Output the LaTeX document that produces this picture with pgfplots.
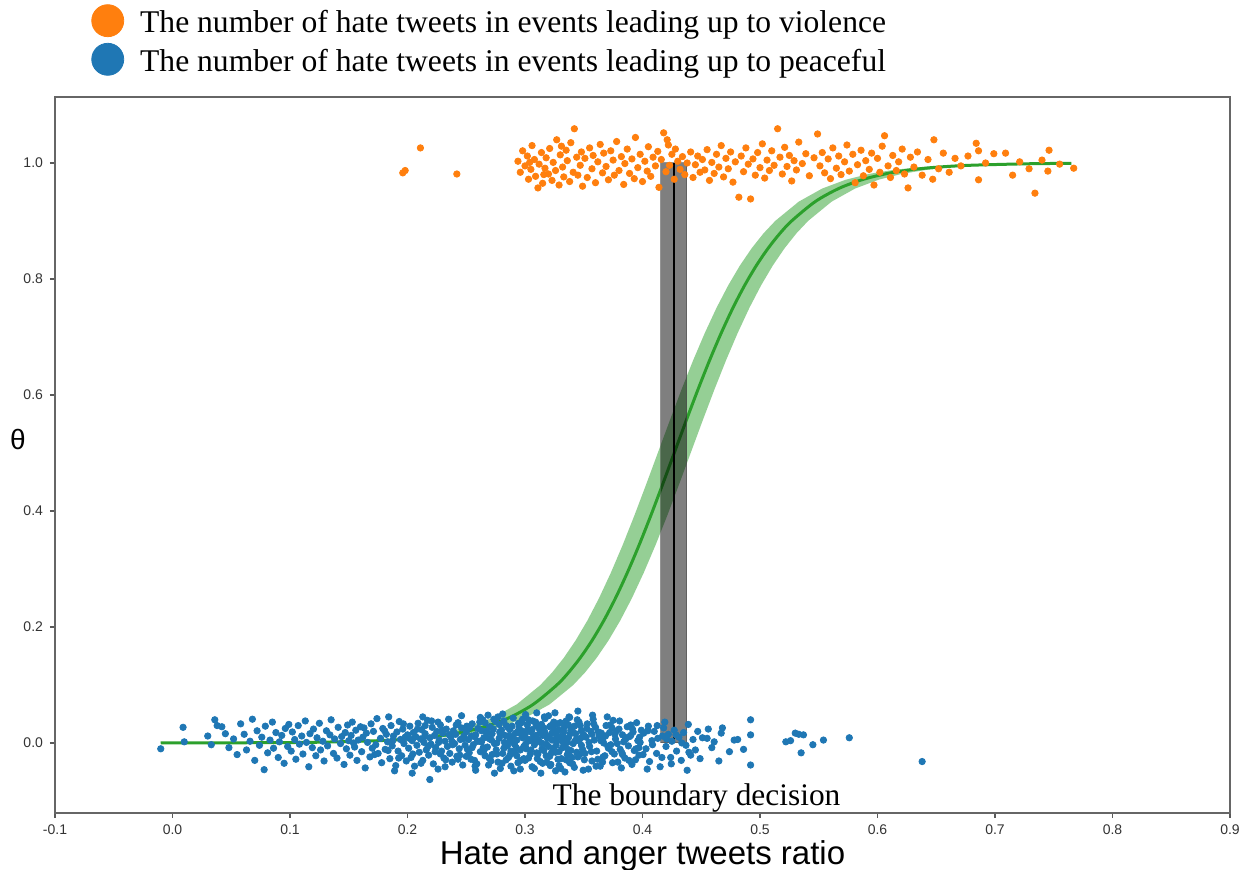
\documentclass[border=0pt]{standalone}
\usepackage{fontspec}
\setmainfont{Liberation Serif}
\setsansfont{Liberation Sans}
\usepackage{pgfplots}
\pgfplotsset{compat=1.18}
\definecolor{tabblue}{HTML}{1F77B4}
\definecolor{taborange}{HTML}{FF7F0E}
\definecolor{tabgreen}{HTML}{2CA02C}

\begin{document}
\begin{tikzpicture}
\useasboundingbox (-27.5pt,-28.5pt) rectangle (596.5pt,406.5pt);
\begin{axis}[
scale only axis,width=587.5pt,height=358pt,
xmin=-0.1,xmax=0.9,ymin=-0.1207,ymax=1.1138,
xtick={-0.1,0,0.1,0.2,0.3,0.4,0.5,0.6,0.7,0.8,0.9},
xticklabels={-0.1,0.0,0.1,0.2,0.3,0.4,0.5,0.6,0.7,0.8,0.9},
ytick={0,0.2,0.4,0.6,0.8,1.0},
yticklabels={0.0,0.2,0.4,0.6,0.8,1.0},
tick align=outside,major tick length=2.5pt,
tick style={black!65,line width=0.6pt},
axis line style={black!60,line width=0.75pt},
tick label style={font=\sffamily\fontsize{7}{8}\selectfont,black!80},
/pgf/number format/assume math mode=true,
xtick pos=bottom,ytick pos=left,
xlabel={Hate and anger tweets ratio},
xlabel style={font=\sffamily\fontsize{16.5}{18}\selectfont,yshift=4pt},
ylabel={θ},
ylabel style={font=\sffamily\fontsize{14}{16}\selectfont,rotate=-90,at={(axis description cs:-0.0315,0.521)},anchor=center},
legend style={at={(axis description cs:0.0306,1.1300)},anchor=north west,draw=none,fill=none,
  font=\fontsize{15.8}{19}\selectfont,row sep=2.9pt,inner sep=0pt,nodes={inner sep=0pt}},
legend cell align=left,
clip=false
]
% violence events (orange)
\addplot[only marks,mark=*,mark size=1.6pt,color=taborange,
  legend image code/.code={\fill[taborange] (8pt,1.1pt) circle (8pt);\path (24pt,0pt);}] coordinates {
(0.196,0.983)(0.198,0.987)(0.211,1.026)(0.242,0.981)
(0.294,1.003)(0.296,0.984)(0.298,1.021)(0.300,0.995)(0.302,1.012)(0.303,0.972)(0.305,0.989)(0.306,1.030)(0.308,1.006)(0.309,0.977)
(0.311,0.957)(0.312,0.998)(0.314,1.018)(0.315,0.965)(0.317,0.991)(0.318,1.009)(0.320,0.981)(0.321,1.025)(0.323,0.970)(0.324,1.001)
(0.326,0.987)(0.327,1.040)(0.329,0.962)(0.330,1.014)(0.332,0.993)(0.333,0.976)(0.335,1.022)(0.336,1.004)(0.338,0.968)(0.339,1.035)
(0.341,0.984)(0.342,1.059)(0.344,1.010)(0.345,0.979)(0.347,0.996)(0.348,1.019)(0.349,0.960)(0.304,1.001)(0.316,0.980)(0.331,1.029)
(0.351,1.008)(0.353,0.975)(0.355,1.026)(0.357,0.990)(0.358,1.013)(0.360,0.966)(0.362,1.002)(0.364,1.032)(0.366,0.983)(0.367,1.017)
(0.369,0.994)(0.371,0.971)(0.373,1.021)(0.375,1.005)(0.376,0.979)(0.378,1.037)(0.380,0.987)(0.382,1.011)(0.384,0.963)(0.385,0.999)
(0.387,1.024)(0.389,0.982)(0.391,1.007)(0.393,0.973)(0.394,1.044)(0.396,0.992)(0.398,1.015)(0.400,0.968)(0.402,1.003)(0.404,0.986)
(0.405,1.028)(0.407,0.977)(0.409,1.010)(0.411,0.995)(0.413,1.020)(0.414,0.958)(0.416,1.006)(0.418,1.052)(0.420,0.985)(0.422,1.031)
(0.423,0.996)(0.425,1.015)(0.427,0.972)(0.428,1.024)(0.430,1.003)(0.432,0.989)(0.434,1.011)(0.436,0.980)(0.438,1.000)(0.441,1.019)
(0.443,0.975)(0.445,0.997)(0.447,1.012)(0.449,0.984)(0.421,1.040)
(0.451,1.006)(0.453,0.988)(0.455,1.023)(0.457,0.970)(0.459,1.001)(0.461,0.982)(0.463,1.015)(0.465,0.993)(0.467,1.030)(0.469,0.976)
(0.471,1.008)(0.473,0.990)(0.475,1.019)(0.477,0.967)(0.479,1.002)(0.482,0.941)(0.484,1.012)(0.486,0.985)(0.488,1.026)(0.490,0.998)
(0.492,0.938)(0.494,1.007)(0.496,0.979)(0.498,1.018)(0.500,0.992)(0.502,1.033)(0.504,0.974)(0.506,1.005)(0.508,0.987)(0.510,1.021)
(0.512,0.996)(0.515,1.059)(0.517,1.010)(0.519,0.981)(0.521,1.027)(0.523,0.994)(0.525,1.013)(0.527,0.969)(0.529,1.004)(0.531,0.988)
(0.533,1.036)(0.536,0.999)(0.539,1.016)(0.542,0.978)(0.546,1.009)
(0.549,1.050)(0.551,0.995)(0.553,1.018)(0.555,0.983)(0.558,1.007)(0.560,0.973)(0.562,1.026)(0.565,0.991)(0.567,1.012)(0.569,0.980)
(0.572,1.002)(0.574,1.031)(0.576,0.986)(0.579,1.015)(0.581,0.966)(0.583,0.997)(0.586,1.022)(0.588,0.978)(0.590,1.004)(0.593,0.989)
(0.595,1.017)(0.597,0.962)(0.600,1.008)(0.602,0.984)(0.604,1.029)(0.606,1.047)(0.609,0.995)(0.611,0.975)(0.613,1.013)(0.616,0.987)
(0.618,1.002)(0.621,1.024)(0.623,0.981)(0.626,0.957)(0.628,1.010)(0.631,0.993)(0.634,1.019)(0.638,0.979)(0.643,1.006)(0.647,0.972)
(0.648,1.040)(0.652,0.990)(0.656,1.017)(0.661,0.984)(0.666,1.008)(0.671,0.995)(0.677,1.012)(0.684,1.034)(0.686,0.971)(0.686,1.021)
(0.692,1.000)(0.699,1.016)(0.709,1.017)(0.715,0.979)(0.721,1.002)(0.729,0.990)(0.734,0.948)(0.745,0.986)(0.746,1.022)(0.755,0.998)
(0.767,0.991)(0.740,1.005)
};
\addlegendentry{The number of hate tweets in events leading up to violence}
% peaceful events (blue)
\addplot[only marks,mark=*,mark size=1.6pt,color=tabblue,
  legend image code/.code={\fill[tabblue] (8pt,1.1pt) circle (8pt);\path (24pt,0pt);}] coordinates {
(-0.010,-0.010)(0.009,0.027)(0.010,0.002)(0.030,0.012)(0.036,0.040)(0.038,0.030)(0.033,-0.003)(0.045,0.016)(0.048,-0.008)(0.042,0.028)
(0.052,0.007)(0.055,-0.020)(0.058,0.033)(0.061,0.015)(0.063,-0.012)(0.066,0.003)(0.068,0.041)(0.070,-0.030)(0.072,0.021)(0.074,-0.004)
(0.076,0.010)(0.078,-0.046)(0.079,0.029)(0.081,-0.017)(0.083,0.005)(0.085,0.036)(0.086,-0.009)(0.088,0.018)(0.090,-0.025)(0.091,0.002)
(0.093,0.013)(0.095,-0.035)(0.096,0.025)(0.098,-0.006)(0.099,0.032)
(0.101,-0.014)(0.102,0.019)(0.104,0.006)(0.105,-0.028)(0.107,0.030)(0.108,-0.002)(0.110,0.012)(0.111,-0.019)(0.113,0.038)(0.114,0.001)
(0.116,-0.041)(0.117,0.016)(0.119,-0.008)(0.120,0.024)(0.122,-0.022)(0.123,0.009)(0.125,0.034)(0.126,-0.012)(0.128,0.003)(0.129,-0.031)
(0.131,0.021)(0.132,-0.005)(0.134,0.014)(0.135,0.040)(0.137,-0.018)(0.138,0.007)(0.140,-0.026)(0.141,0.027)(0.143,-0.001)(0.144,0.011)
(0.146,-0.037)(0.147,0.018)(0.148,-0.010)(0.149,0.031)(0.150,0.004)
(0.151,-0.021)(0.152,0.013)(0.153,0.036)(0.155,-0.007)(0.156,0.022)(0.157,-0.030)(0.158,0.005)(0.160,0.028)(0.161,-0.015)(0.162,0.010)
(0.164,-0.043)(0.165,0.017)(0.166,0.001)(0.168,-0.024)(0.169,0.033)(0.170,-0.009)(0.171,0.020)(0.173,-0.003)(0.174,0.042)(0.175,-0.018)
(0.177,0.008)(0.178,-0.034)(0.179,0.025)(0.181,-0.011)(0.182,0.015)(0.183,0.002)(0.185,-0.027)(0.186,0.030)(0.187,-0.005)(0.188,0.012)
(0.190,-0.039)(0.191,0.019)(0.192,-0.014)(0.193,0.037)(0.194,0.006)(0.195,-0.022)(0.196,0.024)(0.197,-0.001)(0.198,0.010)(0.199,-0.031)
(0.154,0.000)(0.163,0.026)(0.172,-0.020)(0.184,0.045)(0.189,-0.048)
(0.200,0.014)(0.201,-0.009)(0.202,0.029)(0.203,-0.025)(0.204,0.004)(0.205,0.018)(0.206,-0.040)(0.207,0.011)(0.208,-0.004)(0.209,0.034)
(0.210,-0.016)(0.211,0.007)(0.212,0.023)(0.213,-0.030)(0.214,0.001)(0.215,0.016)(0.216,-0.012)(0.217,0.039)(0.218,-0.021)(0.219,0.009)
(0.220,-0.002)(0.221,0.027)(0.222,-0.036)(0.223,0.013)(0.224,-0.008)(0.225,0.020)(0.226,-0.045)(0.227,0.005)(0.228,0.031)(0.229,-0.014)
(0.230,0.017)(0.231,-0.026)(0.232,0.003)(0.233,0.024)(0.234,-0.006)(0.235,0.041)(0.236,-0.018)(0.237,0.010)(0.238,-0.033)(0.239,0.021)
(0.240,-0.001)(0.241,0.015)(0.242,-0.023)(0.243,0.035)(0.244,-0.010)(0.245,0.006)(0.246,0.026)(0.247,-0.038)(0.248,0.012)(0.249,-0.004)
(0.204,-0.052)(0.213,0.045)(0.219,-0.063)(0.226,0.036)(0.232,-0.041)(0.238,0.002)(0.243,-0.028)(0.215,0.030)(0.228,-0.019)(0.246,0.047)
(0.250,0.019)(0.251,-0.011)(0.252,0.006)(0.254,-0.028)(0.255,0.033)(0.256,-0.003)(0.258,0.014)(0.259,-0.036)(0.260,0.025)(0.262,-0.015)
(0.263,0.002)(0.264,0.040)(0.266,-0.022)(0.267,0.010)(0.268,-0.007)(0.270,0.028)(0.271,-0.031)(0.272,0.016)(0.274,-0.001)(0.275,0.037)
(0.276,-0.019)(0.278,0.008)(0.279,-0.044)(0.280,0.022)(0.282,-0.009)(0.283,0.013)(0.284,0.030)(0.286,-0.025)(0.287,0.004)(0.288,-0.014)
(0.290,0.043)(0.291,-0.002)(0.292,0.017)(0.294,-0.034)(0.295,0.026)(0.296,-0.012)(0.298,0.009)(0.299,-0.027)(0.281,0.050)(0.297,0.035)
(0.250,-0.023)(0.253,0.027)(0.255,-0.008)(0.257,0.011)(0.258,-0.047)(0.261,0.003)(0.263,0.021)(0.265,-0.013)(0.266,0.035)(0.269,-0.038)
(0.270,0.007)(0.272,-0.020)(0.273,0.024)(0.276,0.000)(0.277,-0.033)(0.279,0.016)(0.281,-0.018)(0.282,0.038)(0.285,-0.005)(0.286,0.012)
(0.288,-0.040)(0.289,0.029)(0.291,-0.016)(0.293,0.005)(0.294,0.020)(0.296,-0.045)(0.297,0.014)(0.299,-0.006)(0.257,-0.030)(0.262,0.044)
(0.268,0.018)(0.274,-0.052)(0.278,0.032)(0.284,-0.029)(0.289,0.002)(0.293,-0.022)(0.298,0.041)(0.265,0.009)(0.287,0.023)(0.277,0.045)
(0.300,0.015)(0.301,-0.010)(0.302,0.031)(0.303,-0.026)(0.304,0.004)(0.305,0.019)(0.306,-0.041)(0.307,0.010)(0.308,-0.003)(0.309,0.036)
(0.310,-0.017)(0.311,0.006)(0.312,0.025)(0.313,-0.032)(0.314,0.000)(0.315,0.013)(0.316,-0.013)(0.317,0.042)(0.318,-0.022)(0.319,0.008)
(0.320,-0.006)(0.321,0.028)(0.322,-0.037)(0.323,0.017)(0.324,-0.009)(0.325,0.021)(0.326,-0.048)(0.327,0.003)(0.328,0.033)(0.329,-0.015)
(0.330,0.011)(0.331,-0.027)(0.332,0.002)(0.333,0.026)(0.334,-0.005)(0.335,0.038)(0.336,-0.020)(0.337,0.009)(0.338,-0.034)(0.339,0.022)
(0.341,-0.001)(0.343,0.016)(0.345,-0.024)(0.347,0.030)(0.349,-0.011)
(0.300,-0.030)(0.302,0.007)(0.303,0.040)(0.305,-0.012)(0.306,0.023)(0.308,-0.044)(0.309,0.013)(0.311,-0.019)(0.312,0.003)(0.314,0.032)
(0.315,-0.035)(0.317,0.018)(0.318,-0.002)(0.320,0.047)(0.321,-0.023)(0.323,0.005)(0.324,0.027)(0.326,-0.016)(0.327,0.012)(0.329,-0.039)
(0.330,0.035)(0.332,-0.008)(0.333,0.019)(0.335,-0.029)(0.336,0.001)(0.338,0.044)(0.339,-0.013)(0.340,0.024)(0.342,-0.042)(0.344,0.008)
(0.346,0.036)(0.348,-0.004)(0.350,0.014)(0.340,-0.025)(0.342,0.029)(0.344,-0.016)(0.346,0.004)(0.348,0.021)(0.310,0.052)(0.322,0.030)
(0.334,-0.050)(0.316,0.026)(0.328,-0.028)(0.337,0.031)(0.345,0.055)
(0.351,-0.018)(0.352,0.010)(0.353,0.033)(0.355,-0.006)(0.356,0.020)(0.357,-0.031)(0.359,0.005)(0.360,0.027)(0.361,-0.014)(0.363,0.012)
(0.364,-0.040)(0.365,0.017)(0.367,0.000)(0.368,-0.022)(0.369,0.030)(0.371,-0.009)(0.372,0.018)(0.373,-0.003)(0.375,0.039)(0.376,-0.019)
(0.377,0.007)(0.379,-0.033)(0.380,0.024)(0.381,-0.011)(0.383,0.014)(0.384,0.002)(0.385,-0.026)(0.387,0.028)(0.388,-0.005)(0.389,0.011)
(0.391,-0.037)(0.392,0.019)(0.393,-0.013)(0.395,0.035)(0.396,0.004)(0.397,-0.021)(0.399,0.022)(0.354,-0.045)(0.358,0.041)(0.362,-0.028)
(0.366,0.006)(0.370,0.045)(0.374,-0.015)(0.378,0.021)(0.382,-0.043)(0.386,0.009)(0.390,0.031)(0.394,-0.029)(0.398,0.001)(0.357,0.015)
(0.366,-0.033)(0.374,0.026)(0.383,-0.020)(0.390,0.013)(0.397,-0.008)
(0.401,0.017)(0.403,-0.010)(0.405,0.029)(0.406,-0.032)(0.408,0.004)(0.410,0.020)(0.412,-0.018)(0.413,0.008)(0.415,-0.041)(0.417,0.012)
(0.418,0.026)(0.420,-0.006)(0.422,0.015)(0.424,-0.025)(0.425,0.003)(0.427,0.022)(0.429,-0.014)(0.431,0.010)(0.433,-0.030)(0.435,0.018)
(0.437,-0.004)(0.439,0.032)(0.441,-0.021)(0.443,0.006)(0.445,-0.012)(0.447,0.020)(0.449,-0.027)(0.404,-0.045)(0.419,0.036)(0.438,-0.047)
(0.451,0.009)(0.455,0.008)(0.456,0.024)(0.459,-0.008)(0.461,0.002)(0.465,-0.031)(0.467,0.017)(0.468,0.026)(0.474,-0.015)(0.478,0.005)
(0.481,0.006)(0.486,-0.011)(0.492,0.040)(0.492,0.014)(0.492,-0.038)
(0.522,0.002)(0.526,0.004)(0.530,0.017)(0.533,0.015)(0.537,0.014)(0.545,-0.003)(0.535,-0.017)(0.554,0.005)(0.576,0.009)(0.638,-0.032)
(0.1805,0.021)(0.1835,-0.013)(0.1875,0.004)(0.1925,-0.026)(0.1965,0.033)(0.2015,0.008)(0.2045,-0.019)(0.2085,0.024)(0.2115,-0.035)(0.2145,0.011)
(0.2175,-0.006)(0.2205,0.038)(0.2235,-0.015)(0.2265,0.001)(0.2295,0.022)(0.2325,-0.029)(0.2355,0.014)(0.2385,-0.003)(0.2415,0.031)(0.2445,-0.021)
(0.2475,0.007)(0.2505,0.029)(0.2525,-0.017)(0.2545,0.012)(0.2575,-0.040)(0.2595,0.003)(0.2615,0.036)(0.2645,-0.008)(0.2665,0.020)(0.2695,-0.026)
(0.2715,0.005)(0.2735,0.041)(0.2755,-0.012)(0.2785,0.019)(0.2805,-0.035)(0.2825,0.001)(0.2855,0.027)(0.2875,-0.020)(0.2895,0.012)(0.2925,-0.008)
(0.2945,0.034)(0.2965,-0.030)(0.2985,0.020)(0.3005,-0.002)(0.3025,0.023)(0.3045,-0.019)(0.3065,0.038)(0.3085,0.002)(0.3105,-0.027)(0.3125,0.017)
(0.3145,-0.010)(0.3165,0.045)(0.3185,-0.033)(0.3205,0.011)(0.3225,-0.017)(0.3245,0.036)(0.3265,-0.004)(0.3285,0.022)(0.3305,-0.044)(0.3325,0.009)
(0.3345,0.030)(0.3365,-0.011)(0.3385,0.016)(0.3405,-0.036)(0.3425,0.003)(0.3445,0.040)(0.3465,-0.020)(0.3485,0.010)(0.3505,-0.029)(0.3525,0.025)
(0.3545,0.001)(0.3565,-0.015)(0.3585,0.033)(0.3605,-0.040)(0.3625,0.019)(0.3645,0.004)(0.3665,-0.024)(0.3685,0.012)(0.3705,-0.006)(0.3725,0.031)
(0.3745,-0.034)(0.3765,0.015)(0.3785,-0.001)(0.3805,0.038)(0.3825,-0.017)(0.3855,0.006)(0.3885,-0.030)(0.3915,0.024)(0.3945,-0.010)(0.3975,0.010)
(0.4005,-0.020)(0.4045,0.021)(0.4085,-0.003)(0.4125,0.030)(0.4165,-0.025)(0.4205,0.007)(0.4245,-0.036)(0.4285,0.014)(0.4335,0.000)(0.4395,-0.016)
(0.3005,0.049)(0.3135,-0.052)(0.3255,0.052)(0.3375,0.045)(0.3495,-0.047)(0.2905,-0.048)(0.2685,0.048)(0.3575,0.048)(0.3215,-0.039)(0.3095,0.030)
};
\addlegendentry{The number of hate tweets in events leading up to peaceful}
% credible band of the logistic fit
\addplot[fill=tabgreen,fill opacity=0.5,draw=none,forget plot] coordinates {
(-0.010,0.0001)(0.063,0.0005)(0.113,0.0014)(0.163,0.0041)(0.193,0.0078)(0.213,0.0121)(0.233,0.0187)(0.253,0.0288)
(0.273,0.0440)(0.293,0.0666)(0.313,0.0998)(0.323,0.1213)(0.333,0.1468)(0.343,0.1765)(0.353,0.2108)(0.363,0.2497)
(0.373,0.2932)(0.383,0.3407)(0.393,0.3917)(0.403,0.4452)(0.413,0.5000)(0.423,0.5548)(0.433,0.6083)(0.443,0.6593)
(0.453,0.7068)(0.463,0.7503)(0.473,0.7892)(0.483,0.8235)(0.493,0.8532)(0.503,0.8787)(0.513,0.9002)(0.533,0.9334)
(0.553,0.9560)(0.573,0.9712)(0.593,0.9813)(0.613,0.9879)(0.633,0.9922)(0.663,0.9959)(0.713,0.9986)(0.765,0.9996)
(0.765,0.9992)(0.741,0.9986)(0.691,0.9959)(0.661,0.9922)(0.641,0.9879)(0.621,0.9813)(0.601,0.9712)(0.581,0.9560)
(0.561,0.9334)(0.541,0.9002)(0.531,0.8787)(0.521,0.8532)(0.511,0.8235)(0.501,0.7892)(0.491,0.7503)(0.481,0.7068)
(0.471,0.6593)(0.461,0.6083)(0.451,0.5548)(0.441,0.5000)(0.431,0.4452)(0.421,0.3917)(0.411,0.3407)(0.401,0.2932)
(0.391,0.2497)(0.381,0.2108)(0.371,0.1765)(0.361,0.1468)(0.351,0.1213)(0.341,0.0998)(0.321,0.0666)(0.301,0.0440)
(0.281,0.0288)(0.261,0.0187)(0.241,0.0121)(0.221,0.0078)(0.191,0.0041)(0.141,0.0014)(0.091,0.0005)(-0.010,0.0001)
} -- cycle;
% mean logistic curve
\addplot[tabgreen,line width=1.5pt,smooth,forget plot] coordinates {
(-0.010,0.0001)(0.077,0.0005)(0.127,0.0014)(0.177,0.0041)(0.207,0.0078)(0.227,0.0121)(0.247,0.0187)(0.267,0.0288)
(0.287,0.0440)(0.307,0.0666)(0.327,0.0998)(0.337,0.1213)(0.347,0.1468)(0.357,0.1765)(0.367,0.2108)(0.377,0.2497)
(0.387,0.2932)(0.397,0.3407)(0.407,0.3917)(0.417,0.4452)(0.427,0.5000)(0.437,0.5548)(0.447,0.6083)(0.457,0.6593)
(0.467,0.7068)(0.477,0.7503)(0.487,0.7892)(0.497,0.8235)(0.507,0.8532)(0.517,0.8787)(0.527,0.9002)(0.547,0.9334)
(0.567,0.9560)(0.587,0.9712)(0.607,0.9813)(0.627,0.9879)(0.647,0.9922)(0.677,0.9959)(0.727,0.9986)(0.765,0.9994)
};
% decision boundary interval and mean
\addplot[fill=black,fill opacity=0.5,draw=black!70,draw opacity=0.6,line width=0.5pt,forget plot] coordinates {
(0.4155,0)(0.4377,0)(0.4377,1)(0.4155,1)} -- cycle;
\addplot[black,line width=1pt,forget plot] coordinates {(0.4266,0)(0.4266,1)};
\node[anchor=base,font=\fontsize{15.7}{18}\selectfont,yshift=3.5pt] at (axis cs:0.446,-0.1207) {The boundary decision};
\end{axis}
\end{tikzpicture}
\end{document}
